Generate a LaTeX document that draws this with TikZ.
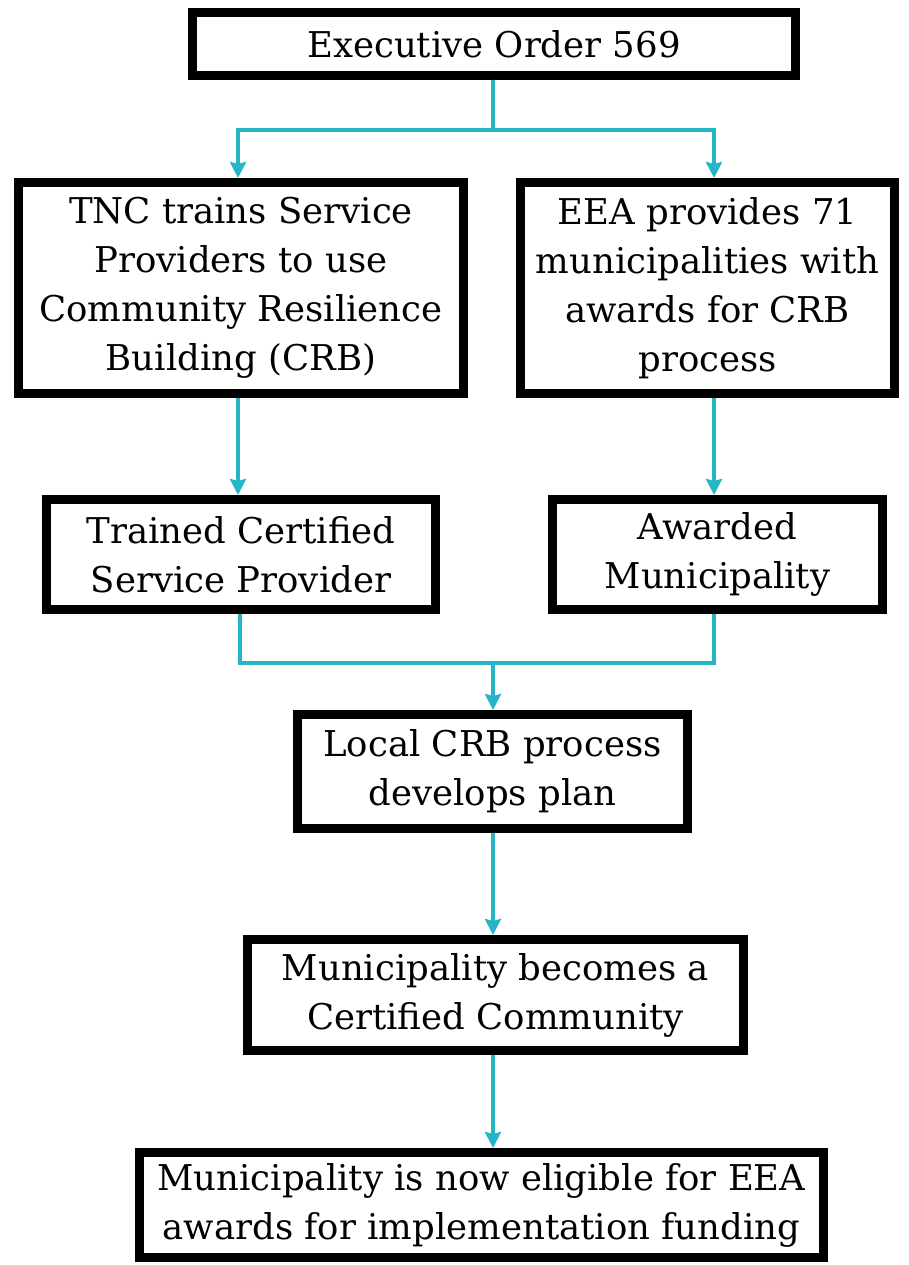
\documentclass[tikz,border=0pt]{standalone}
\usepackage{fontspec}
\setmainfont{DejaVu Serif}
\usetikzlibrary{arrows.meta}
\definecolor{teal}{RGB}{38,181,199}
\tikzset{
  box/.style={draw=black, line width=9pt, fill=white, align=center, inner sep=0pt,
    font=\fontsize{35.5}{49}\selectfont},
  conn/.style={draw=teal, line width=4pt},
  arr/.style={conn, -{Stealth[length=16pt,width=16pt,inset=2pt]}},
}
\begin{document}
\begin{tikzpicture}[x=1pt,y=-1pt]
\useasboundingbox (0,0) rectangle (909,1265);
\node[box, minimum width=603pt, minimum height=63pt] (eo) at (494,44) {Executive Order 569};
\node[box, minimum width=445pt, minimum height=211pt] (tnc) at (241,288) {TNC trains Service\\Providers to use\\Community Resilience\\Building (CRB)};
\node[box, minimum width=374pt, minimum height=211pt] (eea) at (707.5,288) {EEA provides 71\\municipalities with\\awards for CRB\\process};
\node[box, minimum width=389pt, minimum height=110pt] (tcsp) at (241,554.5) {Trained Certified\\Service Provider};
\node[box, minimum width=330pt, minimum height=110pt] (am) at (717.5,554.5) {Awarded\\Municipality};
\node[box, minimum width=390pt, minimum height=114pt] (loc) at (492.5,771.5) {Local CRB process\\develops plan};
\node[box, minimum width=496pt, minimum height=111pt] (cert) at (495.5,995) {Municipality becomes a\\Certified Community};
\node[box, minimum width=684pt, minimum height=105pt] (elig) at (481.5,1205) {Municipality is now eligible for EEA\\awards for implementation funding};
% connectors
\coordinate (split) at (493,130);
\coordinate (merge) at (493,663);
\draw[conn] (eo.south -| split) -- (split);
\draw[arr] (split) -| (tnc.north -| 238,0);
\draw[arr] (split) -| (eea.north -| 714,0);
\draw[arr] (tnc.south -| 238,0) -- (tcsp.north -| 238,0);
\draw[arr] (eea.south -| 714,0) -- (am.north -| 714,0);
\draw[conn] (tcsp.south -| 240,0) |- (merge);
\draw[conn] (am.south -| 714,0) |- (merge);
\draw[arr] (merge) -- (loc.north -| merge);
\draw[arr] (loc.south -| 493,0) -- (cert.north -| 493,0);
\draw[arr] (cert.south -| 493,0) -- (elig.north -| 493,0);
\end{tikzpicture}
\end{document}
